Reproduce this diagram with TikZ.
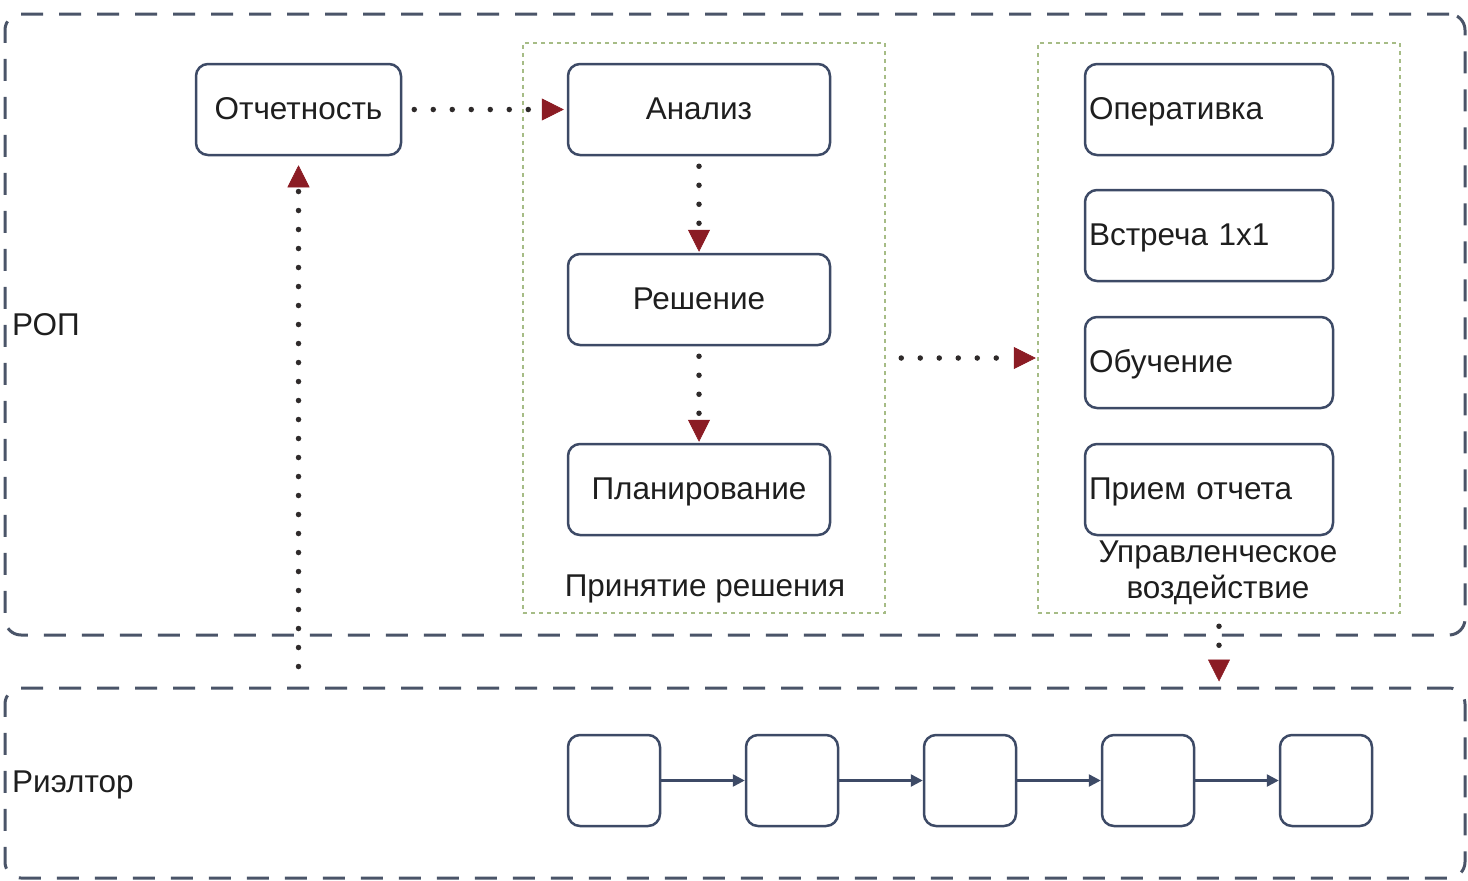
\documentclass[tikz,border=0pt]{standalone}
\usepackage{fontspec}
\setmainfont{Liberation Sans}
\usetikzlibrary{arrows.meta}
\definecolor{boxline}{HTML}{3D4A66}
\definecolor{laneline}{HTML}{4A5468}
\definecolor{grpgreen}{HTML}{A6BC86}
\definecolor{arrowred}{HTML}{8B1C24}
\definecolor{dotink}{HTML}{2E2A2A}
\definecolor{ink}{HTML}{1E1E1E}
\begin{document}
\begin{tikzpicture}[x=1pt,y=-1pt,font=\fontsize{31.5}{36}\selectfont,
  lane/.style={draw=laneline,line width=3pt,dash pattern=on 22pt off 16pt,rounded corners=16pt},
  group/.style={draw=grpgreen,line width=2.5pt,dash pattern=on 4pt off 4pt},
  card/.style={draw=boxline,line width=2.5pt,rounded corners=12pt,fill=white,text=ink,
    minimum height=91pt,inner sep=4pt,text height=22pt,text depth=2pt},
  tag/.style={text=ink,inner sep=0pt},
  flow/.style={draw=dotink,line width=5.5pt,line cap=round,dash pattern=on 0pt off 19pt,
    -{Triangle[length=22pt,width=22pt,color=arrowred,fill=arrowred,line width=0.5pt]}},
  chain/.style={draw=boxline,line width=2.5pt,-{Triangle[length=12pt,width=12pt]}}]
\useasboundingbox (0,0) rectangle (1468,881);
\node (rop) [lane,minimum width=1460,minimum height=621] at (735,324.5) {};
\node (riel) [lane,minimum width=1460,minimum height=190] at (735,783) {};
\node (ropname) [tag,anchor=west] at (12,325) {РОП};
\node (rielname) [tag,anchor=west] at (12,785) {Риэлтор};
\node (grpdec) [group,minimum width=362,minimum height=570] at (704,328) {};
\node (grpact) [group,minimum width=362,minimum height=570] at (1219,328) {};
\node (declbl) [tag] at (705,589) {Принятие решения};
\node (actlbl) [tag,align=center] at (1218,573) {Управленческое\\воздействие};
\node (otch) [card,minimum width=205] at (298.5,109.5) {Отчетность};
\node (anal) [card,minimum width=262] at (699,109.5) {Анализ};
\node (resh) [card,minimum width=262] at (699,299.5) {Решение};
\node (plan) [card,minimum width=262] at (699,489.5) {Планирование};
\node (oper) [card,text width=240,align=left] at (1209,109.5) {Оперативка};
\node (meet) [card,text width=240,align=left] at (1209,235.5) {Встреча 1x1};
\node (train) [card,text width=240,align=left] at (1209,362.5) {Обучение};
\node (recv) [card,text width=240,align=left] at (1209,489.5) {Прием отчета};
\foreach \i in {1,...,5}
  \node (st\i) [card,minimum width=92] at ({436+178*\i},780.5) {};
\foreach \i [count=\j from 2] in {1,...,4}
  \draw[chain] (st\i) -- (st\j);
\draw[flow,shorten <=12pt,shorten >=3pt] (otch) -- (anal);
\draw[flow,shorten <=10pt,shorten >=1pt] (anal) -- (resh);
\draw[flow,shorten <=10pt,shorten >=1pt] (resh) -- (plan);
\draw[flow,shorten >=1pt] ([xshift=15pt,yshift=-30pt]grpdec.east) -- ([yshift=-30pt]grpact.west);
\draw[flow,shorten <=20pt,shorten >=9pt] (otch |- riel.north) -- (otch);
\draw[flow,shorten <=12pt,shorten >=5pt] (grpact) -- (grpact |- riel.north);
\end{tikzpicture}
\end{document}
